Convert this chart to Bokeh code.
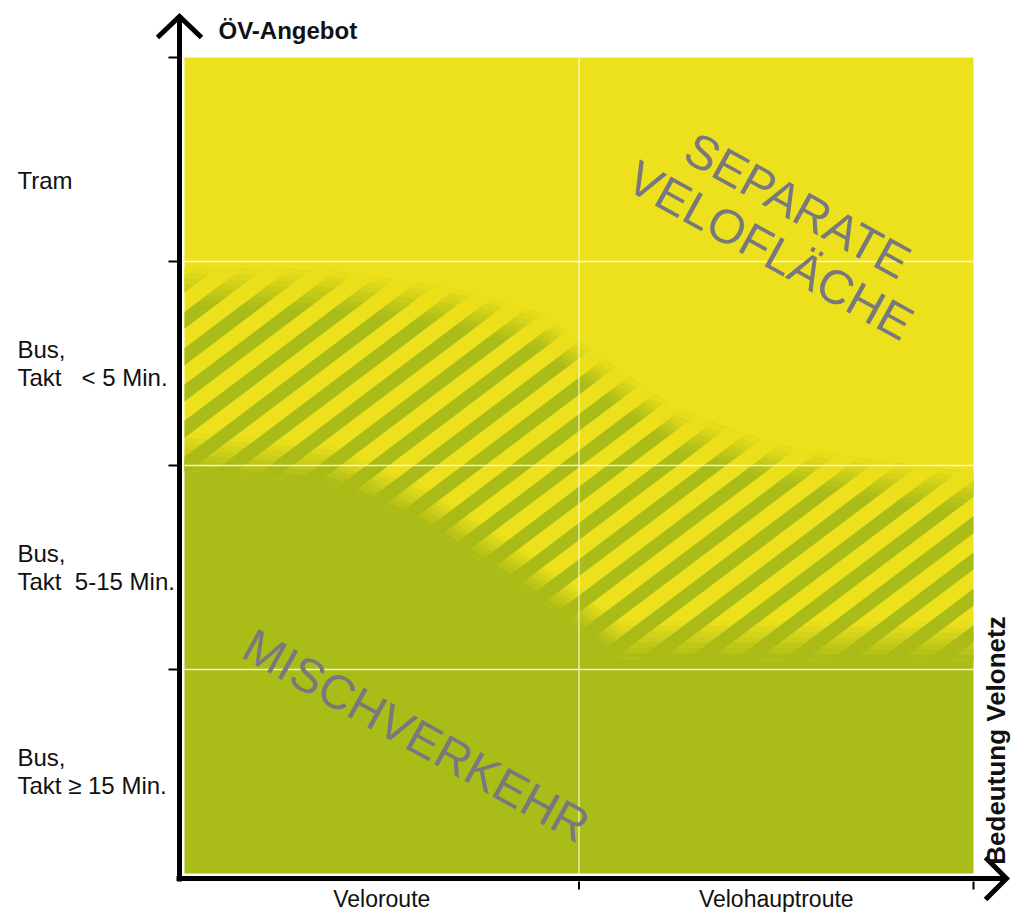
import math
from bokeh.plotting import figure
from bokeh.models import ColumnDataSource
from bokeh.core.properties import value
from bokeh.embed import file_html
from bokeh.resources import INLINE

# ---------------- data ----------------
x_categories = ["Veloroute", "Velohauptroute"]
y_categories = ["Bus,\nTakt \u2265 15 Min.", "Bus,\nTakt \u00a05-15 Min.",
                "Bus,\nTakt \u00a0\u00a0< 5 Min.", "Tram"]
y_title = "ÖV-Angebot"
x_title = "Bedeutung Velonetz"

# transition zone boundaries (x in column units, y in row units)
upper_x = [0.0, 0.37, 0.674, 0.902, 1.055, 1.257, 1.511, 1.764, 2.0]
upper_y = [2.97, 2.955, 2.872, 2.750, 2.530, 2.265, 2.095, 2.022, 1.966]
lower_x = [0.0, 0.37, 0.598, 0.852, 0.996, 1.105, 2.0]
lower_y = [1.975, 1.917, 1.721, 1.412, 1.216, 1.054, 1.044]

zone_text = ["SEPARATE", "VELOFLÄCHE", "MISCHVERKEHR"]
zone_text_x = [1.554, 1.485, 0.588]
zone_text_y = [3.275, 3.054, 0.676]

# ---------------- layout / style ----------------
W, H = 1013, 912
CELL_L, CELL_R, CELL_T, CELL_B = 184, 973, 57, 873
NX, NY = len(x_categories), len(y_categories)
SX = (CELL_R - CELL_L) / NX
SY = (CELL_B - CELL_T) / NY

def DX(cx):
    return (cx - CELL_L) / SX

def DY(cy):
    return (CELL_B - cy) / SY

YELLOW = "#ECE11C"
GREEN = "#AABC18"
GRAY = "#78787f"
FONT = value("Liberation Sans")

p = figure(width=W, height=H, x_range=(DX(0), DX(W)), y_range=(DY(H), DY(0)),
           output_backend="svg", toolbar_location=None,
           x_axis_type=None, y_axis_type=None, min_border=0)
p.outline_line_color = None
p.background_fill_color = "white"
p.border_fill_color = "white"

# zones
yz_x = list(lower_x) + [NX, 0]
yz_y = list(lower_y) + [NY, NY]
p.patch(yz_x, yz_y, fill_color=YELLOW, line_color=None)
gz_x = list(lower_x) + [NX, 0]
gz_y = list(lower_y) + [0, 0]
p.patch(gz_x, gz_y, fill_color=GREEN, line_color=None)

# stripes inside the transition band (computed in pixel space)
theta = math.radians(37)
nv = (-math.sin(theta), math.cos(theta))
band = [(x * SX, y * SY) for x, y in zip(upper_x, upper_y)] + \
       [(x * SX, y * SY) for x, y in zip(lower_x[::-1], lower_y[::-1])]

def tval(pt):
    return pt[0] * nv[0] + pt[1] * nv[1]

def clip(poly, a, keep_ge):
    out = []
    n = len(poly)
    for i in range(n):
        P, Q = poly[i], poly[(i + 1) % n]
        tp, tq = tval(P), tval(Q)
        ip = tp >= a if keep_ge else tp <= a
        iq = tq >= a if keep_ge else tq <= a
        if ip:
            out.append(P)
        if ip != iq:
            r = (a - tp) / (tq - tp)
            out.append((P[0] + r * (Q[0] - P[0]), P[1] + r * (Q[1] - P[1])))
    return out

PERIOD, SW = 29.0, 13.5
ts = [tval(pt) for pt in band]
k0, k1 = int(math.floor(min(ts) / PERIOD)) - 1, int(math.ceil(max(ts) / PERIOD)) + 1
sxs, sys_ = [], []
for k in range(k0, k1):
    a = k * PERIOD
    poly = clip(band, a, True)
    if len(poly) < 3:
        continue
    poly = clip(poly, a + SW, False)
    if len(poly) < 3:
        continue
    sxs.append([q[0] / SX for q in poly])
    sys_.append([q[1] / SY for q in poly])
p.patches(sxs, sys_, fill_color=GREEN, line_color=None)

# soft fades at the band edges
NF, STEP = 7, 5.5
for i in range(NF):
    s = (i + 1) * STEP / SY
    alpha = 1.0 / (i + 1.5) if i < NF - 1 else 0.5 / NF
    ux = list(upper_x) + list(upper_x[::-1])
    uy = list(upper_y) + [y - s for y in upper_y[::-1]]
    p.patch(ux, uy, fill_color=YELLOW, fill_alpha=alpha, line_color=None)
    lx = list(lower_x) + list(lower_x[::-1])
    ly = list(lower_y) + [y + s for y in lower_y[::-1]]
    p.patch(lx, ly, fill_color=GREEN, fill_alpha=alpha, line_color=None)

# grid lines between cells
gx0, gx1, gy0, gy1 = [], [], [], []
for i in range(1, NX):
    gx0.append(i); gx1.append(i); gy0.append(0); gy1.append(NY)
for j in range(1, NY):
    gx0.append(0); gx1.append(NX); gy0.append(j); gy1.append(j)
p.segment(gx0, gy0, gx1, gy1, line_color="#FFFBE0", line_alpha=0.85, line_width=1.3)

# zone labels
p.text(x=zone_text_x, y=zone_text_y, text=zone_text, angle=math.radians(-29),
       text_font=FONT, text_font_size="48px", text_color=GRAY,
       text_align="center", text_baseline="middle")

# axes lines and arrows
AXC, AYC = 179, 878
p.line([DX(AXC), DX(AXC)], [DY(16), DY(881)], line_color="black", line_width=5)
p.line([DX(176), DX(1006)], [DY(AYC), DY(AYC)], line_color="black", line_width=5)
p.line([DX(157), DX(AXC), DX(201)], [DY(37), DY(16), DY(37)],
       line_color="black", line_width=5, line_join="miter")
p.line([DX(985), DX(1006), DX(985)], [DY(857), DY(AYC), DY(899)],
       line_color="black", line_width=5, line_join="miter")

# tick marks
yt = list(range(1, NY + 1))
p.segment([DX(168)] * len(yt), yt, [DX(177)] * len(yt), yt, line_color="black", line_width=2)
xt = list(range(1, NX + 1))
p.segment(xt, [DY(881)] * len(xt), xt, [DY(889)] * len(xt), line_color="black", line_width=2)

# category labels
nudge = {NY - 1: 21}
ylab = ColumnDataSource(dict(
    x=[DX(17)] * NY,
    y=[i + 0.5 - nudge.get(i, 0) / SY for i in range(NY)],
    t=y_categories))
p.text(x="x", y="y", text="t", source=ylab, text_font=FONT, text_font_size="24px",
       text_color="#111111", text_align="left", text_baseline="middle",
       text_line_height=1.05)
xlab = ColumnDataSource(dict(x=[i + 0.5 for i in range(NX)], y=[DY(898)] * NX, t=x_categories))
p.text(x="x", y="y", text="t", source=xlab, text_font=FONT, text_font_size="23px",
       text_color="#111111", text_align="center", text_baseline="middle")

# axis titles
p.text(x=[DX(218)], y=[DY(30)], text=[y_title], text_font=FONT, text_font_size="24px",
       text_font_style="bold", text_color="#111111", text_align="left",
       text_baseline="middle")
p.text(x=[DX(995)], y=[DY(740)], text=[x_title], angle=math.pi / 2, text_font=FONT,
       text_font_size="26px", text_font_style="bold", text_color="#111111",
       text_align="center", text_baseline="middle")

open("out.html", "w").write(file_html(p, INLINE))
